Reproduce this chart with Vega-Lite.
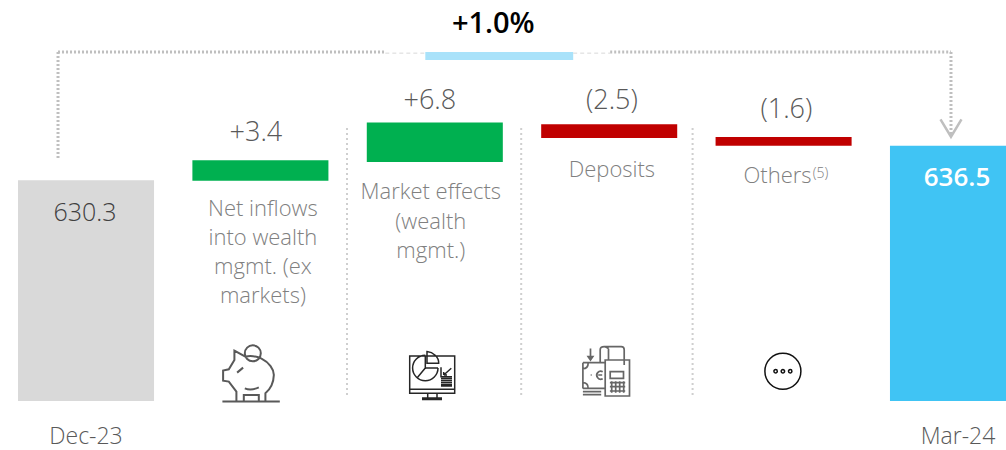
{
"$schema":"https://vega.github.io/schema/vega-lite/v6.json",
"width":1006,"height":401,
"autosize":{"type":"none"},
"padding":{"left":0,"top":0,"right":0,"bottom":49},
"background":"white",
"config":{"view":{"stroke":null},"text":{"font":"Open Sans","baseline":"middle","align":"center","lineBreak":"\n"}},
"datasets":{
"bars":[
{"category":"Dec-23","low":590.5,"high":630.3,"kind":"total","value":"630.3"},
{"category":"Net inflows","low":630.2,"high":633.9,"kind":"up","value":"+3.4","name":"Net inflows\ninto wealth\nmgmt. (ex\nmarkets)"},
{"category":"Market effects","low":633.6,"high":640.7,"kind":"up","value":"+6.8","name":"Market effects\n(wealth\nmgmt.)"},
{"category":"Deposits","low":637.9,"high":640.4,"kind":"down","value":"(2.5)","name":"Deposits"},
{"category":"Others","low":636.5,"high":638.1,"kind":"down","value":"(1.6)","name":"Others"},
{"category":"Mar-24","low":590.5,"high":636.5,"kind":"end","value":"636.5"}
],
"one":[{"note":"annotation"}]
},
"data":{"name":"bars"},
"layer":[
{"mark":{"type":"bar"},
 "encoding":{
  "x":{"field":"category","type":"nominal","title":null,
   "scale":{"type":"band","domain":["Dec-23","Net inflows","Market effects","Deposits","Others","Mar-24"],"range":[18,1026],"paddingInner":0.22,"paddingOuter":0},
   "axis":{"values":["Dec-23","Mar-24"],"domain":false,"ticks":false,"grid":false,"labelAngle":0,"labelFont":"Open Sans","labelFontSize":23,"labelFontWeight":300,"labelColor":"#595959","labelPadding":35,"labelBaseline":"middle"}},
  "y":{"field":"low","type":"quantitative","title":null,"axis":null,"scale":{"domain":[590.5,662.78],"nice":false,"zero":false}},
  "y2":{"field":"high"},
  "color":{"field":"kind","type":"nominal","legend":null,"scale":{"domain":["total","up","down","end"],"range":["#D9D9D9","#00B050","#C00000","#40C4F4"]}}}},

{"data":{"name":"one"},"mark":{"type":"rule","stroke":"#CFCFCF","strokeWidth":2,"strokeDash":[2,3],"xOffset":-87.8},"encoding":{"x":{"datum":"Market effects"},"y":{"datum":639.7},"y2":{"datum":591.2}}},
{"data":{"name":"one"},"mark":{"type":"rule","stroke":"#CFCFCF","strokeWidth":2,"strokeDash":[2,3],"xOffset":-88},"encoding":{"x":{"datum":"Deposits"},"y":{"datum":639.7},"y2":{"datum":591.2}}},
{"data":{"name":"one"},"mark":{"type":"rule","stroke":"#CFCFCF","strokeWidth":2,"strokeDash":[2,3],"xOffset":-91},"encoding":{"x":{"datum":"Others"},"y":{"datum":639.7},"y2":{"datum":591.2}}},

{"data":{"name":"one"},"mark":{"type":"rule","stroke":"#BFBFBF","strokeWidth":3,"strokeDash":[2,2],"xOffset":-28},"encoding":{"x":{"datum":"Dec-23"},"y":{"datum":653.4},"y2":{"datum":634.2}}},
{"data":{"name":"one"},"mark":{"type":"rule","stroke":"#BFBFBF","strokeWidth":3,"strokeDash":[2,2],"xOffset":-28,"x2Offset":-49.5},"encoding":{"x":{"datum":"Dec-23"},"x2":{"datum":"Market effects"},"y":{"datum":653.4}}},
{"data":{"name":"one"},"mark":{"type":"rule","stroke":"#D9D9D9","strokeWidth":1,"strokeDash":[4,3],"xOffset":-49.5,"x2Offset":-9.5},"encoding":{"x":{"datum":"Market effects"},"x2":{"datum":"Market effects"},"y":{"datum":653.2}}},
{"data":{"name":"one"},"mark":{"type":"rule","stroke":"#A9E2FA","strokeWidth":8,"xOffset":-9.5,"x2Offset":-36},"encoding":{"x":{"datum":"Market effects"},"x2":{"datum":"Deposits"},"y":{"datum":652.7}}},
{"data":{"name":"one"},"mark":{"type":"rule","stroke":"#D9D9D9","strokeWidth":1,"strokeDash":[4,3],"xOffset":-36,"x2Offset":1},"encoding":{"x":{"datum":"Deposits"},"x2":{"datum":"Deposits"},"y":{"datum":653.2}}},
{"data":{"name":"one"},"mark":{"type":"rule","stroke":"#BFBFBF","strokeWidth":3,"strokeDash":[2,2],"xOffset":1,"x2Offset":-7},"encoding":{"x":{"datum":"Deposits"},"x2":{"datum":"Mar-24"},"y":{"datum":653.4}}},
{"data":{"name":"one"},"mark":{"type":"rule","stroke":"#BFBFBF","strokeWidth":3,"strokeDash":[2,2],"xOffset":-7},"encoding":{"x":{"datum":"Mar-24"},"y":{"datum":653.4},"y2":{"datum":638.4}}},
{"data":{"name":"one"},"mark":{"type":"point","shape":"M-1,-0.83L0,0.83L1,-0.83","size":441,"filled":false,"stroke":"#BFBFBF","strokeWidth":2.5,"opacity":1,"xOffset":-7},"encoding":{"x":{"datum":"Mar-24"},"y":{"datum":639.7}}},

{"data":{"name":"one"},"mark":{"type":"text","fontSize":29,"fontWeight":600,"color":"#000000","dx":58.5,"dy":2},"encoding":{"x":{"datum":"Market effects"},"y":{"datum":658.8},"text":{"value":"+1.0%"}}},

{"transform":[{"filter":"datum.category==='Dec-23'"}],"mark":{"type":"text","fontSize":25,"fontWeight":300,"color":"#404040","dy":32.5,"dx":-1},"encoding":{"x":{"field":"category"},"y":{"field":"high","type":"quantitative"},"text":{"field":"value"}}},
{"transform":[{"filter":"datum.category==='Mar-24'"}],"mark":{"type":"text","fontSize":26,"fontWeight":600,"color":"#FFFFFF","dy":32.5,"dx":-1},"encoding":{"x":{"field":"category"},"y":{"field":"high","type":"quantitative"},"text":{"field":"value"}}},
{"transform":[{"filter":"datum.category==='Net inflows'"}],"mark":{"type":"text","fontSize":27,"fontWeight":300,"color":"#595959","dy":-27,"dx":-4.5},"encoding":{"x":{"field":"category"},"y":{"field":"high","type":"quantitative"},"text":{"field":"value"}}},
{"transform":[{"filter":"datum.category==='Market effects'"}],"mark":{"type":"text","fontSize":27,"fontWeight":300,"color":"#595959","dy":-21,"dx":-5},"encoding":{"x":{"field":"category"},"y":{"field":"high","type":"quantitative"},"text":{"field":"value"}}},
{"transform":[{"filter":"datum.category==='Deposits'"}],"mark":{"type":"text","fontSize":27,"fontWeight":300,"color":"#595959","dy":-23,"dx":2.7},"encoding":{"x":{"field":"category"},"y":{"field":"high","type":"quantitative"},"text":{"field":"value"}}},
{"transform":[{"filter":"datum.category==='Others'"}],"mark":{"type":"text","fontSize":27,"fontWeight":300,"color":"#595959","dy":-27,"dx":2.8},"encoding":{"x":{"field":"category"},"y":{"field":"high","type":"quantitative"},"text":{"field":"value"}}},

{"transform":[{"filter":"datum.category==='Net inflows'"}],"mark":{"type":"text","fontSize":22,"fontWeight":300,"color":"#808080","baseline":"alphabetic","lineHeight":29,"dy":35,"dx":2.5},"encoding":{"x":{"field":"category"},"y":{"field":"low","type":"quantitative"},"text":{"field":"name"}}},
{"transform":[{"filter":"datum.category==='Market effects'"}],"mark":{"type":"text","fontSize":22,"fontWeight":300,"color":"#808080","baseline":"alphabetic","lineHeight":29.5,"dy":37.5,"dx":-4},"encoding":{"x":{"field":"category"},"y":{"field":"low","type":"quantitative"},"text":{"field":"name"}}},
{"transform":[{"filter":"datum.category==='Deposits'"}],"mark":{"type":"text","fontSize":22,"fontWeight":300,"color":"#808080","baseline":"alphabetic","dy":39,"dx":2.7},"encoding":{"x":{"field":"category"},"y":{"field":"low","type":"quantitative"},"text":{"field":"name"}}},
{"transform":[{"filter":"datum.category==='Others'"}],"mark":{"type":"text","fontSize":22,"fontWeight":300,"color":"#808080","baseline":"alphabetic","dy":37,"dx":-6},"encoding":{"x":{"field":"category"},"y":{"field":"low","type":"quantitative"},"text":{"field":"name"}}},
{"data":{"name":"one"},"mark":{"type":"text","fontSize":14,"fontWeight":300,"color":"#808080","dx":37,"dy":0},"encoding":{"x":{"datum":"Others"},"y":{"datum":631.4},"text":{"value":"(5)"}}},

{"data":{"name":"one"},"mark":{"type":"point","filled":false,"opacity":1,"size":4,"stroke":"#595959","strokeWidth":2,"xOffset":-9.3,"shape":"M-16.7,-22.7L-5.7,-16.7C-1,-18 5,-17 10,-15C18,-11 23,-4 22.7,2C22.5,9 19,16 14.3,20L14.3,28.3L7.7,28.3L7.7,21.7L-7.3,21.7L-7.3,28.3L-14.7,28.3L-14.7,18.3L-22.3,8.3L-28,7.3L-28,-2.7L-22.3,-4L-16.7,-13.3Z M-28.7,28.3L28.7,28.3 M-14,-0.7L-8,-5.7 M-6.3,15Q0,17.7 7.7,14 M9.7,-20a8,8 0 1,0 -16,0a8,8 0 1,0 16,0Z"},"encoding":{"x":{"datum":"Net inflows"},"y":{"datum":595.49}}},
{"data":{"name":"one"},"mark":{"type":"point","filled":false,"opacity":1,"size":4,"stroke":"#262626","strokeWidth":1.5,"xOffset":-2.8,"shape":"M-22.3,-19L22.7,-19L22.7,18.3L-22.3,18.3Z M-22.3,14.3L22.7,14.3 M-4.3,18.3L-4.3,23 M5,18.3L5,23 M-10,23L10,23 M-10,24.5L10,24.5 M6,-7A12.7,12.7 0 1,1 -6.7,-19.7 M-6.7,-7L-6.7,-19.7 M-6.7,-7L-15,3 M-6.7,-7L6,-7 M-5,-23.5L-5,-11.7L6.7,-11.7C7,-18 1,-23 -5,-23.5Z M9,-7.7L9,1.7L20,1.7 M11.7,0L19.3,-6.7 M11.7,0L11.7,-3 M11.7,0L15,0 M9,3.5L20,3.5 M9,5.5L20,5.5 M9,7.5L20,7.5 M9,9.5L20,9.5 M9,11L20,11"},"encoding":{"x":{"datum":"Market effects"},"y":{"datum":595.19}}},
{"data":{"name":"one"},"mark":{"type":"point","filled":false,"opacity":1,"size":4,"stroke":"#666666","strokeWidth":1.7,"xOffset":-3,"shape":"M-1,-11.7L23.3,-11.7L23.3,24.3L-1,24.3Z M2.3,-11.7L2.3,-23 M-6,-10L-6,-22Q-6,-25 -2,-25L15,-25Q18,-25 18,-22L18,-6.7 M2.3,-23Q0,-25 -2,-25 M4,0L17.3,0L17.3,6.7L4,6.7Z M3.7,11L19,11 M3.7,15L19,15 M3.7,19.3L19,19.3 M5.5,9.5L5.5,21 M9.5,9.5L9.5,21 M13.5,9.5L13.5,21 M17.5,9.5L17.5,21 M-23.3,-9L-1,-9 M-23.3,16.7L-1,16.7 M-23.3,-9L-23.3,16.7 M-23.3,-3Q-18,-3 -18,-9 M-23.3,11Q-18,11 -18,16.7 M-3.5,0a4,4 0 1,0 0,7 M-8,3.3L-4,3.3 M-15.5,3.3L-14.5,3.3 M-23.3,20L-5,20 M-23.3,23L-5,23 M-15.7,-23.3L-15.7,-11.7 M-18,-15L-15.7,-11.7L-13.4,-15Z"},"encoding":{"x":{"datum":"Deposits"},"y":{"datum":595.78}}},
{"data":{"name":"one"},"mark":{"type":"point","filled":false,"opacity":1,"size":4,"stroke":"#111111","strokeWidth":1.5,"xOffset":-0.7,"shape":"M18,0a18,18 0 1,1 -36,0a18,18 0 1,1 36,0Z M-5.6,0a1.7,1.7 0 1,1 -3.4,0a1.7,1.7 0 1,1 3.4,0Z M1.7,0a1.7,1.7 0 1,1 -3.4,0a1.7,1.7 0 1,1 3.4,0Z M9,0a1.7,1.7 0 1,1 -3.4,0a1.7,1.7 0 1,1 3.4,0Z"},"encoding":{"x":{"datum":"Others"},"y":{"datum":595.85}}}
]
}
